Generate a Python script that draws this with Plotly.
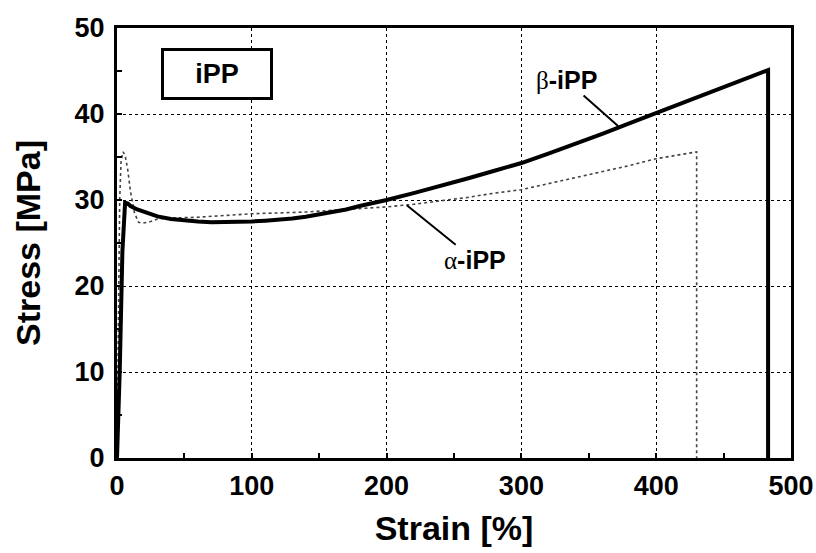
import plotly.graph_objects as go

# beta-iPP (thick black curve)
beta_strain = [0, 2, 4, 5, 6, 8, 10, 15, 20, 25, 30, 40, 50, 60, 70, 80, 90, 100, 110, 120,
               130, 140, 150, 160, 170, 180, 190, 200, 220, 240, 260, 280, 300, 320, 340,
               360, 380, 400, 420, 440, 460, 483, 483]
beta_stress = [0, 10, 24, 28, 29.7, 29.6, 29.3, 28.9, 28.6, 28.3, 28.1, 27.8, 27.6, 27.5,
               27.4, 27.4, 27.4, 27.5, 27.6, 27.7, 27.85, 28.05, 28.3, 28.6, 28.9, 29.3,
               29.6, 30.0, 30.8, 31.6, 32.5, 33.4, 34.3, 35.4, 36.5, 37.7, 38.9, 40.1,
               41.3, 42.5, 43.7, 45.1, 0]

# alpha-iPP (thin curve)
alpha_strain = [0, 1, 2, 3, 4.5, 6, 8, 10, 13, 16, 19, 25, 30, 40, 60, 80, 100, 120, 140,
                160, 180, 200, 220, 240, 260, 280, 300, 320, 340, 360, 380, 400, 420, 430, 430]
alpha_stress = [0, 15, 30, 34.5, 35.6, 35.2, 33.5, 31, 28.5, 27.4, 27.3, 27.5, 27.8, 27.9,
                28.0, 28.2, 28.4, 28.5, 28.6, 28.8, 29.0, 29.2, 29.5, 29.9, 30.3, 30.8,
                31.2, 31.9, 32.6, 33.3, 34.0, 34.8, 35.3, 35.6, 0]

x_ticks = [0, 100, 200, 300, 400, 500]
y_ticks = [0, 10, 20, 30, 40, 50]

FONT = "Liberation Sans, Arial, sans-serif"

fig = go.Figure()
fig.add_trace(go.Scatter(x=alpha_strain, y=alpha_stress, mode="lines",
                         line=dict(color="#444444", width=1.6, dash="dot"),
                         showlegend=False, name="α-iPP"))
fig.add_trace(go.Scatter(x=beta_strain, y=beta_stress, mode="lines",
                         line=dict(color="black", width=4),
                         showlegend=False, name="β-iPP"))

axis_common = dict(
    showline=True, linecolor="black", linewidth=3, mirror=True, automargin=False,
    showgrid=True, gridcolor="black", gridwidth=1.3, griddash="dot",
    zeroline=False, ticks="inside", ticklen=5, tickwidth=2, tickcolor="black",
    tickfont=dict(family=FONT, size=27, color="black", weight="bold"),
)

fig.update_xaxes(range=[0, 500], tickvals=x_ticks, ticktext=[str(v) for v in x_ticks],
                 minor=dict(tickvals=[50, 150, 250, 350, 450], ticks="inside", ticklen=5,
                            tickwidth=2, tickcolor="black", showgrid=False),
                 ticklabelstandoff=2,
                 title=dict(text="Strain [%]", standoff=16,
                            font=dict(family=FONT, size=34, color="black", weight="bold")),
                 **axis_common)
fig.update_yaxes(range=[0, 50], tickvals=y_ticks, ticktext=[str(v) for v in y_ticks],
                 minor=dict(tickvals=[5, 15, 25, 35, 45], ticks="inside", ticklen=5,
                            tickwidth=2, tickcolor="black", showgrid=False),
                 ticklabelstandoff=4,
                 title=dict(text="Stress [MPa]", standoff=24,
                            font=dict(family=FONT, size=34, color="black", weight="bold")),
                 **axis_common)

greek = "<span style=\"font-family:'Liberation Serif';font-weight:normal\">{}</span>"

fig.add_annotation(x=74.5, y=44.7, xref="x", yref="y", text="iPP", showarrow=False,
                   font=dict(family=FONT, size=27, color="black", weight="bold"),
                   bordercolor="black", borderwidth=3, borderpad=0, width=106, height=46,
                   bgcolor="white")
fig.add_annotation(x=371.7, y=38.6, xref="x", yref="y",
                   text=greek.format("β") + "-iPP", showarrow=True, arrowhead=0,
                   arrowwidth=2, arrowcolor="black", ax=-52, ay=-46,
                   font=dict(family=FONT, size=25, color="black", weight="bold"))
fig.add_annotation(x=215, y=29.4, xref="x", yref="y",
                   text=greek.format("α") + "-iPP", showarrow=True, arrowhead=0,
                   arrowwidth=2, arrowcolor="black", ax=68, ay=55,
                   font=dict(family=FONT, size=25, color="black", weight="bold"))

fig.update_layout(
    width=816, height=553,
    margin=dict(l=117, r=25, t=28, b=95, autoexpand=False),
    plot_bgcolor="white", paper_bgcolor="white",
    font=dict(family=FONT, color="black"),
)

# remove the browser's default 8px page margin so the figure fills the window exactly
fig.write_html("out.html", config={"displayModeBar": False},
               post_script="document.body.style.margin='0';document.body.style.overflow='hidden';")
